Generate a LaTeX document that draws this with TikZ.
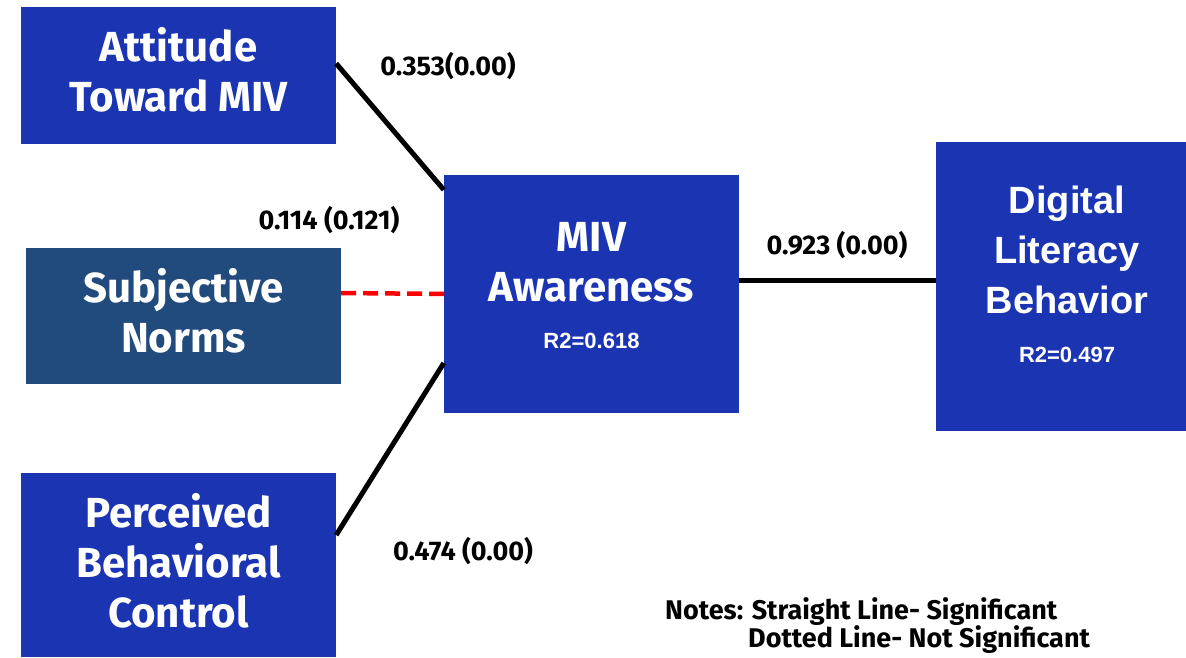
\documentclass[tikz,border=0pt]{standalone}
\usepackage{fontspec}
\setmainfont{Fira Sans}
\newfontfamily\arialfont{Liberation Sans}
\usetikzlibrary{calc}
\definecolor{mivblue}{RGB}{27,53,178}
\definecolor{normblue}{RGB}{34,75,125}
\tikzset{
  factor/.style={fill=mivblue, inner sep=0pt},
  boxtext/.style={text=white, align=center, inner sep=0pt, font=\fontsize{42}{50}\selectfont\bfseries},
  dlbtext/.style={text=white, align=center, inner sep=0pt, font=\arialfont\fontsize{38}{50}\selectfont\bfseries},
  rtext/.style={text=white, inner sep=0pt, font=\arialfont\fontsize{22}{26}\selectfont\bfseries},
  coef/.style={inner sep=0pt, font=\fontsize{27}{28}\selectfont\bfseries},
  sigline/.style={line width=5pt},
  nsline/.style={red, line width=4.5pt, dash pattern=on 15pt off 7pt}
}
\begin{document}
\begin{tikzpicture}[x=1pt, y=-1pt]
    \useasboundingbox (0,0) rectangle (1186,657);

    % Predictors (left column)
    \node[factor, minimum width=315pt, minimum height=137pt] (att) at (178.5,75.5) {};
    \node[boxtext] (attT) at ([yshift=6pt]att.center) {Attitude\\Toward MIV};
    \node[factor, fill=normblue, minimum width=315pt, minimum height=136pt] (sn) at (183.5,316) {};
    \node[boxtext] (snT) at ([yshift=5pt]sn.center) {Subjective\\Norms};
    \node[factor, minimum width=315pt, minimum height=184pt] (pbc) at (178.5,565) {};
    \node[boxtext] (pbcT) at ([yshift=4pt]pbc.center) {Perceived\\Behavioral\\Control};

    % Mediator
    \node[factor, minimum width=295pt, minimum height=238pt] (miv) at (591.5,294) {};
    \node[boxtext] (mivT) at ([yshift=32pt]miv.center) {MIV\\Awareness};
    \node[rtext] (mivR) at ([yshift=-47pt]miv.center) {R2=0.618};

    % Outcome
    \node[factor, minimum width=250pt, minimum height=289pt] (dlb) at (1061,286.5) {};
    \node[dlbtext] (dlbT) at ([xshift=6pt, yshift=37pt]dlb.center) {Digital\\Literacy\\Behavior};
    \node[rtext] (dlbR) at ([xshift=6pt, yshift=-68pt]dlb.center) {R2=0.497};

    % Paths
    \draw[sigline] ([yshift=12pt]att.east) -- ([yshift=-15pt]miv.north west);
    \draw[nsline] ([yshift=23pt]sn.east) -- ([xshift=6pt]miv.west);
    \draw[sigline] ([yshift=30pt]pbc.east) -- ([yshift=-69pt]miv.west);
    \draw[sigline] ([yshift=14pt]miv.east) -- ([yshift=14pt]miv.east -| dlb.west);

    % Coefficients
    \node[coef] (c1) at (448,66) {0.353(0.00)};
    \node[coef] (c2) at (329,220) {0.114 (0.121)};
    \node[coef] (c3) at (463,551) {0.474 (0.00)};
    \node[coef] (c4) at (837,245) {0.923 (0.00)};

    % Notes
    \node[coef, anchor=west, align=left] (notes) at (665,626)
        {Notes: Straight Line- Significant\\\hspace*{83pt}Dotted Line- Not Significant};
\end{tikzpicture}
\end{document}
